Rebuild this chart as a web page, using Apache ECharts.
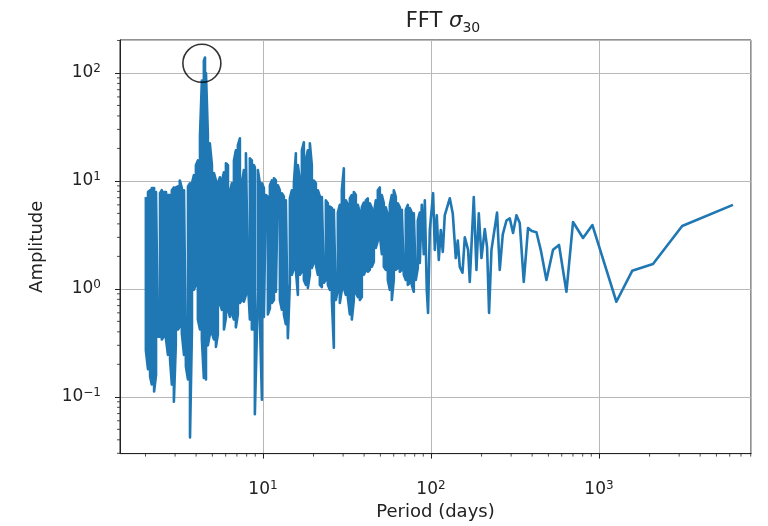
<!DOCTYPE html>
<html><head><meta charset="utf-8">
<script src="https://cdn.jsdelivr.net/npm/echarts@6/dist/echarts.min.js"></script>
<style>html,body{margin:0;padding:0;background:#fff}#c{width:768px;height:526px}</style>
</head><body><div id="c"></div>
<script>
// Dense low-period part of the spectrum: period (days) with the upper and lower amplitude read at each sample
const densePeriod = [2.01,2.07,2.13,2.18,2.25,2.31,2.37,2.44,2.50,2.57,2.65,2.72,2.80,2.87,2.95,3.03,3.12,3.20,3.29,3.39,3.48,3.58,3.68,3.78,3.88,3.99,4.10,4.22,4.33,4.45,4.52,4.58,4.70,4.83,4.97,5.11,5.25,5.39,5.54,5.70,5.86,6.02,6.19,6.36,6.53,6.72,6.90,7.09,7.29,7.49,7.70,7.92,8.14,8.36,8.59,8.83,8.95,9.33,9.59,9.86,10.13,10.41,10.70,11.00,11.30,11.62,11.94,12.27,12.61,12.96,13.32,13.69,14.07,14.46,14.86,15.28,15.70,16.14,16.58,17.05,17.52,18.00,18.50,19.02,19.54,20.09,20.65,21.22,21.81,22.42,23.04,23.68,24.34,25.01,25.71,26.42,27.15,27.91,28.68,29.48,30.30,31.14,32.01,32.90,33.81,34.75,35.71,36.70,37.72,38.77,39.85,40.95,42.09,43.26,44.46,45.70,46.96,48.27,49.61,50.99,52.41,53.86,55.36,56.90,58.48,60.10,61.77,63.49,65.25,67.07,68.93,70.83,72.80,74.83,76.90,79.04,81.23,83.49,85.81];
const denseUpper = [7.1,7.9,8.2,8.6,8.6,7.9,7.7,7.7,8.2,7.9,7.9,7.4,7.4,8.2,8.7,8.7,8.9,10.1,8.6,8.2,8.2,8.9,9.5,9.5,11.3,14.0,15.5,26,85,130,139,100,27.5,22.3,14.0,11.8,10.1,9.5,10.8,10.1,12.0,14.6,14.0,7.9,9.5,15.5,19.2,21.4,24.8,9.5,12.6,18.0,17.3,16.2,15.5,14.0,13.4,12.6,9.5,9.5,8.6,7.4,7.1,9.1,10.1,10.6,10.1,9.1,8.2,7.7,7.2,6.6,6.6,6.9,8.2,9.5,18.0,14.0,10.1,19.2,22.8,15.5,19.2,22.3,14.0,10.1,9.5,8.2,7.2,7.1,6.9,6.6,6.2,5.8,5.6,5.4,5.2,5.1,6.0,8.2,13.1,6.6,6.0,6.9,7.4,7.9,7.4,6.0,5.1,5.7,6.3,6.6,6.9,6.2,5.6,5.0,6.6,8.2,8.7,7.4,6.2,5.7,4.8,6.0,7.4,8.2,7.1,6.2,5.7,5.4,5.4,5.4,6.0,5.6,5.1,5.0,4.8,4.3,5.1];
const denseLower = [0.27,0.18,0.154,0.13,0.112,0.16,0.36,0.36,0.34,0.36,0.34,0.245,0.22,0.13,0.090,0.30,0.42,0.45,0.39,0.245,0.19,0.145,0.042,0.42,0.98,1.09,0.52,0.42,0.34,0.15,0.2,0.145,0.30,0.38,0.39,0.34,0.29,0.38,0.74,0.64,0.42,0.54,0.64,0.55,0.60,0.52,0.44,0.58,0.74,0.79,0.76,0.88,1.14,0.52,0.42,0.42,0.069,0.92,0.52,0.094,0.55,0.55,0.58,0.66,0.74,0.79,0.94,0.98,0.79,0.64,0.58,0.47,0.35,1.14,1.35,1.56,1.50,0.88,1.35,1.44,1.21,1.09,1.02,1.35,1.56,1.78,1.67,1.35,1.09,1.04,1.14,1.21,1.09,0.98,0.79,0.285,0.79,0.98,0.74,0.98,1.02,0.88,0.83,0.58,0.52,0.79,0.92,0.84,0.79,0.84,1.35,1.50,1.44,1.50,1.60,1.78,2.4,2.8,3.2,2.1,1.60,1.50,1.21,0.98,0.79,1.21,1.50,1.56,1.44,1.50,1.35,1.21,1.09,1.14,1.09,0.94,1.21,1.56,1.74];
// Sparse long-period part
const tailPeriod = [88.2,90.6,91.9,94.4,96.1,98.4,103,105.4,108.3,111.3,114.4,117.6,120.8,129.4,134.8,140.5,144.4,148.4,154.0,159,166.3,170.2,179.8,186.5,192.6,199.8,209.1,215.7,221.7,229.1,247.4,256.7,267.5,281.4,294.4,308.0,322.7,337.6,356.7,378.2,397.9,424.3,450.1,486.6,532.7,578.3,640.0,700.6,803.5,913.9,1269,1576,2096,3126,6269];
const tailAmp = [6.0,2.1,6.6,0.98,0.60,3.5,7.7,2.3,4.8,1.85,3.5,2.2,4.8,6.9,5.0,1.93,2.8,1.60,1.41,3.0,2.3,1.16,7.1,1.50,5.0,1.93,3.58,2.44,0.60,2.3,5.1,1.50,3.2,4.3,4.5,3.29,4.8,4.07,1.16,3.66,3.43,3.35,2.3,1.21,2.3,2.55,0.94,4.16,2.96,3.9,0.76,1.47,1.70,3.82,6.0];
// Annotation circle around the main peak
const peakCircle = [[4.33, 123]];
// Axis ranges and ticks
const xRange = [1.41, 8030];
const yRange = [0.0298, 202];
const xTickExponents = {1: '1', 2: '2', 3: '3'};
const yTickExponents = {'-1': '−1', 0: '0', 1: '1', 2: '2'};
const xMinorTicks = [2,3,4,5,6,7,8,9,20,30,40,50,60,70,80,90,200,300,400,500,600,700,800,900,2000,3000,4000,5000,6000,7000,8000];
const yMinorTicks = [0.03,0.04,0.05,0.06,0.07,0.08,0.09,0.2,0.3,0.4,0.5,0.6,0.7,0.8,0.9,2,3,4,5,6,7,8,9,20,30,40,50,60,70,80,90,200];

const lineData = [];
densePeriod.forEach((p, i) => {
  if (i % 2 === 0) { lineData.push([p, denseUpper[i]], [p, denseLower[i]]); }
  else { lineData.push([p, denseLower[i]], [p, denseUpper[i]]); }
});
tailPeriod.forEach((p, i) => lineData.push([p, tailAmp[i]]));

function powLabel(map) {
  return function (v) {
    const e = Math.log10(v);
    const r = Math.round(e);
    if (Math.abs(e - r) > 1e-6) return '';
    return map[r] !== undefined ? '{b|10}{e|' + map[r] + '}' : '';
  };
}

const FONT = 'DejaVu Sans';
const TXT = '#222';
const tickRich = {
  b: {fontFamily: FONT, fontSize: 17, color: TXT, lineHeight: 20},
  e: {fontFamily: FONT, fontSize: 12, color: TXT, verticalAlign: 'top', lineHeight: 12}
};
const chart = echarts.init(document.getElementById('c'), null, {renderer: 'canvas'});
chart.setOption({
  animation: false,
  backgroundColor: '#fff',
  textStyle: {fontFamily: FONT},
  title: {
    text: '{n|FFT }{s|σ}{d|30}',
    left: 438, top: 4, textAlign: 'center',
    textStyle: {fontWeight: 'normal', rich: {
      n: {fontFamily: FONT, fontSize: 21, fontWeight: 'normal', color: TXT, lineHeight: 26},
      s: {fontFamily: FONT, fontSize: 21, fontWeight: 'normal', fontStyle: 'italic', color: TXT, lineHeight: 26},
      d: {fontFamily: FONT, fontSize: 14, fontWeight: 'normal', color: TXT, verticalAlign: 'bottom', lineHeight: 14}
    }}
  },
  grid: {left: 120, right: 17, top: 40, bottom: 71, show: true, borderColor: '#222', borderWidth: 1, backgroundColor: 'transparent'},
  xAxis: {
    type: 'log', logBase: 10, min: xRange[0], max: xRange[1],
    name: 'Period (days)', nameLocation: 'middle', nameGap: 49,
    nameTextStyle: {fontFamily: FONT, fontSize: 18, color: TXT},
    axisLine: {show: true, onZero: false, lineStyle: {color: '#222', width: 1}},
    axisTick: {show: true, length: 5, lineStyle: {color: '#222', width: 1}},
    axisLabel: {formatter: powLabel(xTickExponents), rich: tickRich, margin: 26, showMinLabel: false, showMaxLabel: false},
    splitLine: {show: true, lineStyle: {color: '#b8b8b8', width: 1}}
  },
  yAxis: {
    type: 'log', logBase: 10, min: yRange[0], max: yRange[1],
    name: 'Amplitude', nameLocation: 'middle', nameGap: 74, nameRotate: 90,
    nameTextStyle: {fontFamily: FONT, fontSize: 18, color: TXT},
    axisLine: {show: true, onZero: false, lineStyle: {color: '#222', width: 1}},
    axisTick: {show: true, length: 5, lineStyle: {color: '#222', width: 1}},
    axisLabel: {formatter: powLabel(yTickExponents), rich: tickRich, margin: 19, showMinLabel: false, showMaxLabel: false},
    splitLine: {show: true, lineStyle: {color: '#b8b8b8', width: 1}}
  },
  series: [
    {
      type: 'line', data: lineData, symbol: 'none', sampling: false,
      lineStyle: {color: '#1f77b4', width: 2.6, join: 'round'}, z: 3
    },
    {
      type: 'scatter', data: peakCircle, symbol: 'circle', symbolSize: 38,
      itemStyle: {color: 'rgba(0,0,0,0)', borderColor: '#000', borderWidth: 1.6}, z: 4, silent: true
    },
    {
      type: 'custom', coordinateSystem: 'cartesian2d', clip: false, silent: true, z: 5,
      data: xMinorTicks.map(v => [v, yRange[0]]),
      renderItem: function (params, api) {
        const pt = api.coord([api.value(0), api.value(1)]);
        return {type: 'line', shape: {x1: pt[0], y1: pt[1], x2: pt[0], y2: pt[1] + 3}, style: {stroke: '#222', lineWidth: 0.8}};
      }
    },
    {
      type: 'custom', coordinateSystem: 'cartesian2d', clip: false, silent: true, z: 5,
      data: yMinorTicks.map(v => [xRange[0], v]),
      renderItem: function (params, api) {
        const pt = api.coord([api.value(0), api.value(1)]);
        return {type: 'line', shape: {x1: pt[0], y1: pt[1], x2: pt[0] - 3, y2: pt[1]}, style: {stroke: '#222', lineWidth: 0.8}};
      }
    }
  ]
});
</script>
</body></html>
